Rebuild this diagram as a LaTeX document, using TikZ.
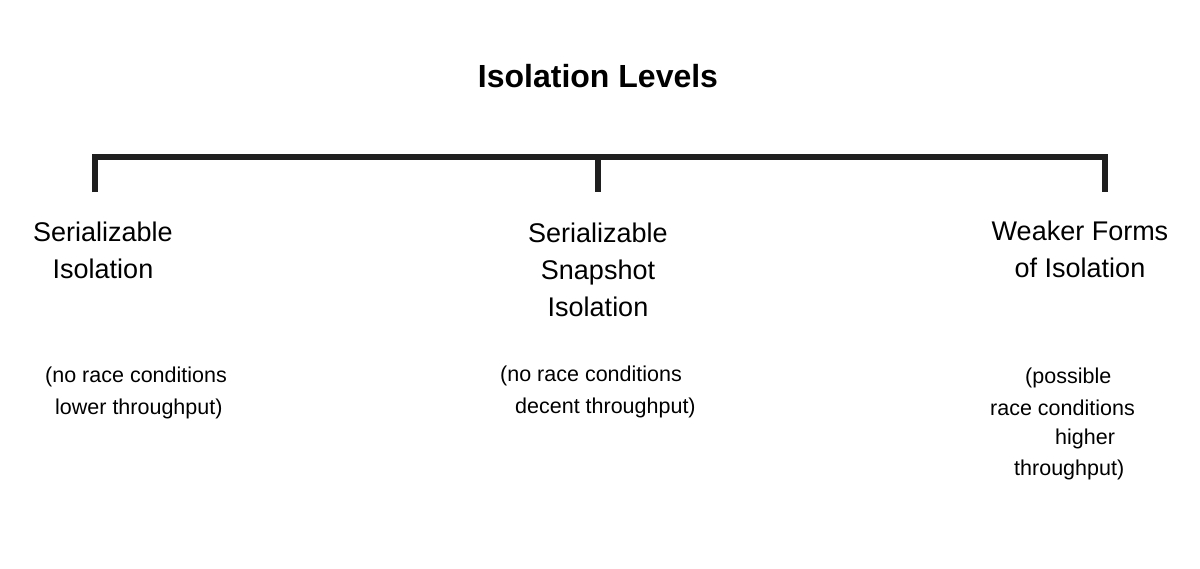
\documentclass[tikz,border=0pt]{standalone}
\usepackage{fontspec}
\setmainfont{Liberation Sans}
\begin{document}
\begin{tikzpicture}[x=1pt,y=-1pt,
  big/.style={font=\fontsize{27}{37}\selectfont,align=center,inner sep=0pt},
  small/.style={font=\fontsize{21.5}{31}\selectfont,inner sep=0pt,anchor=west},
  brk/.style={line width=6pt,color=black!88}]
\useasboundingbox (0,0) rectangle (1200,568);
\node[font=\fontsize{32}{38}\selectfont\bfseries,inner sep=0pt] (title) at (598,76) {Isolation Levels};
\coordinate (l) at (95,192); \coordinate (m) at (598,192); \coordinate (r) at (1105,192);
\draw[brk,line join=miter] (l) -- (95,157) -- (1105,157) -- (r);
\draw[brk] (598,157) -- (m);
\node[big] (a) at (103,250) {Serializable\\Isolation};
\node[big] (b) at (598,270) {Serializable\\Snapshot\\Isolation};
\node[big] (c) at (1080,249) {Weaker Forms\\of Isolation};
\node[small] (a1) at (45,377) {(no race conditions};
\node[small] (a2) at (55,409) {lower throughput)};
\node[small] (b1) at (500,376) {(no race conditions};
\node[small] (b2) at (515,408) {decent throughput)};
\node[small] (c1) at (1025,378) {(possible};
\node[small] (c2) at (990,408) {race conditions};
\node[small] (c3) at (1055,439) {higher};
\node[small] (c4) at (1014,470) {throughput)};
\end{tikzpicture}
\end{document}
